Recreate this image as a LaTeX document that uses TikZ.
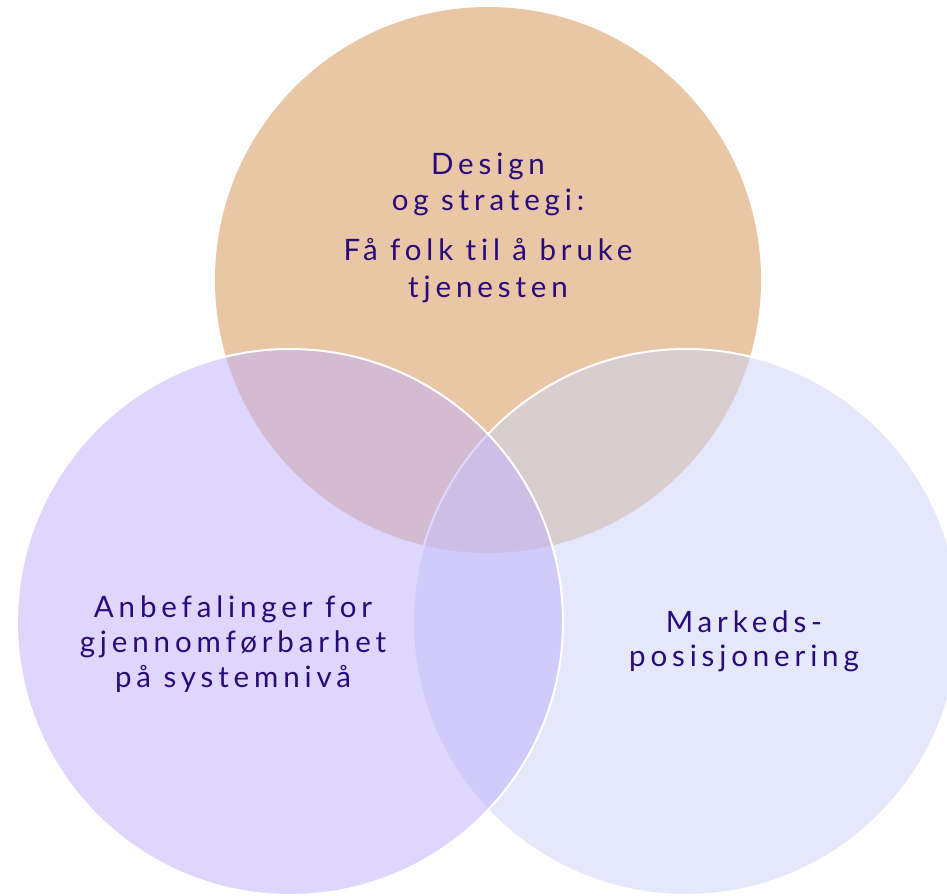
\documentclass[tikz,border=0pt]{standalone}
\usepackage{fontspec}
\setmainfont{Lato}[LetterSpace=16.5, Ligatures={NoCommon}]
\definecolor{circTopC}{RGB}{233,199,166}
\definecolor{circRightC}{RGB}{204,212,246}
\definecolor{circLeftC}{RGB}{193,178,249}
\definecolor{txtC}{RGB}{40,10,122}
\tikzset{
  lbl/.style={anchor=base, inner sep=0pt, text=txtC, font=\fontsize{29.5}{35}\selectfont},
  ring/.style={fill opacity=0.53, draw=white, line width=2pt}
}
\begin{document}
\begin{tikzpicture}[x=1pt,y=-1pt]
\useasboundingbox (0,0) rectangle (947,895);
\clip (0,0) rectangle (947,895);
\fill[circTopC] (488,280) circle (273);
\filldraw[ring, fill=circRightC] (686,622) circle (273);
\filldraw[ring, fill=circLeftC] (290,622) circle (273);
\node[lbl] (t1) at (488,174) {Design};
\node[lbl] (t2) at (488,210) {og strategi:};
\node[lbl] (t3) at (488,260) {Få folk til å bruke};
\node[lbl] (t4) at (488,297) {tjenesten};
\node[lbl] (l1) at (233,617) {Anbefalinger for};
\node[lbl] (l2) at (233,652) {gjennomførbarhet};
\node[lbl] (l3) at (233,687) {på systemnivå};
\node[lbl] (r1) at (744,632) {Markeds-};
\node[lbl] (r2) at (744,666) {posisjonering};
\end{tikzpicture}
\end{document}
